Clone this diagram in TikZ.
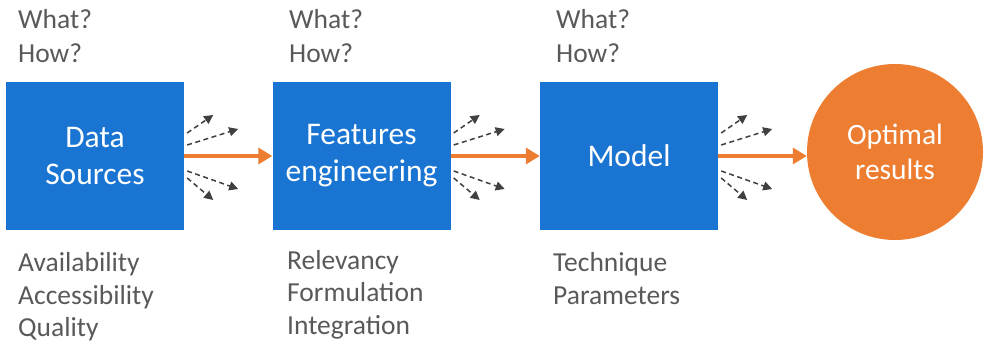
\documentclass[tikz,border=0pt]{standalone}
\usepackage{fontspec}
\setmainfont{Carlito}
\usetikzlibrary{arrows.meta,calc}
\definecolor{boxblue}{HTML}{1A75D2}
\definecolor{orng}{HTML}{ED7D31}
\definecolor{txtgray}{HTML}{595959}
\definecolor{dashgray}{HTML}{404040}
\tikzset{
  stage/.style={rectangle,fill=boxblue,draw=none,minimum width=178pt,minimum height=148pt,
    text=white,align=center,inner sep=0pt,font=\fontsize{31.5}{37}\selectfont},
  goal/.style={circle,fill=orng,draw=none,minimum size=176pt,text=white,align=center,
    inner sep=0pt,font=\fontsize{29.5}{35}\selectfont},
  lbl/.style={anchor=base west,inner sep=0pt,text=txtgray,font=\fontsize{27.5}{32}\selectfont},
  flow/.style={draw=orng,line width=4.5pt,-{Triangle[length=14pt,width=16pt]}},
  dasharr/.style={draw=dashgray,line width=1.5pt,dash pattern=on 5pt off 3.5pt,
    -{Triangle[length=9pt,width=9pt]}}
}
\begin{document}
\begin{tikzpicture}[x=1pt,y=-1pt]
\useasboundingbox (0,0) rectangle (985,344);
\node[stage] (b1) at (95,156) {Data\\Sources};
\node[stage] (b2) at (361.5,156) {Features\\engineering};
\node[stage] (b3) at (629,156) {Model};
\node[goal] (c) at (895,152) {Optimal\\results};
% top labels
\node[lbl] (w1) at (18,29) {What?};
\node[lbl] (h1) at (18,63) {How?};
\node[lbl] (w2) at (289,29) {What?};
\node[lbl] (h2) at (289,63) {How?};
\node[lbl] (w3) at (556,29) {What?};
\node[lbl] (h3) at (556,63) {How?};
% bottom labels
\node[lbl] (l11) at (18,272) {Availability};
\node[lbl] (l12) at (18,305) {Accessibility};
\node[lbl] (l13) at (18,337) {Quality};
\node[lbl] (l21) at (287,270) {Relevancy};
\node[lbl] (l22) at (287,302) {Formulation};
\node[lbl] (l23) at (287,335) {Integration};
\node[lbl] (l31) at (553,272) {Technique};
\node[lbl] (l32) at (553,305) {Parameters};
% flow arrows
\draw[flow] (b1.east) -- (b2.west);
\draw[flow] (b2.east) -- (b3.west);
\draw[flow] (b3.east) -- (c.west |- b3.east);
% dashed arrows
\foreach \b in {b1,b2,b3}{
  \coordinate (\b-a0) at ($(\b.east)+(3,-23)$);
  \coordinate (\b-a1) at ($(\b.east)+(29,-41)$);
  \coordinate (\b-b0) at ($(\b.east)+(3,-11)$);
  \coordinate (\b-b1) at ($(\b.east)+(54,-27)$);
  \coordinate (\b-c0) at ($(\b.east)+(3,15)$);
  \coordinate (\b-c1) at ($(\b.east)+(54,33)$);
  \coordinate (\b-d0) at ($(\b.east)+(3,22)$);
  \coordinate (\b-d1) at ($(\b.east)+(29,44)$);
  \draw[dasharr] (\b-a0) -- (\b-a1);
  \draw[dasharr] (\b-b0) -- (\b-b1);
  \draw[dasharr] (\b-c0) -- (\b-c1);
  \draw[dasharr] (\b-d0) -- (\b-d1);
}
\end{tikzpicture}
\end{document}
